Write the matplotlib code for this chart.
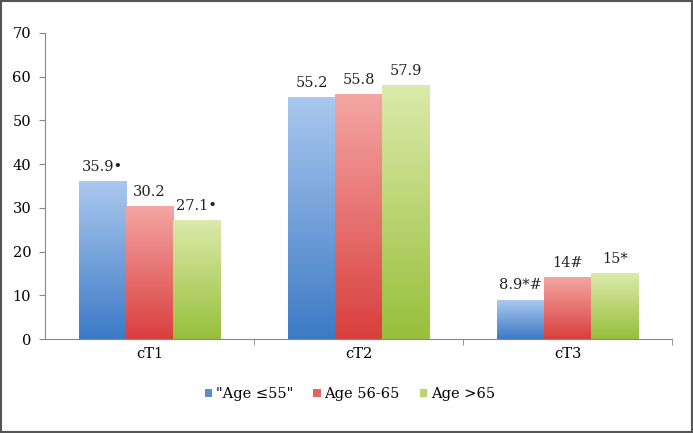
import matplotlib
matplotlib.use('Agg')
import matplotlib.pyplot as plt
import numpy as np
from matplotlib.colors import LinearSegmentedColormap
from matplotlib.patches import Patch, Rectangle

# -------------------- DATA --------------------
categories = ["cT1", "cT2", "cT3"]
series_names = ['"Age \u226455"', "Age 56-65", "Age >65"]
age_le55 = [35.9, 55.2, 8.9]
age_56_65 = [30.2, 55.8, 14]
age_gt65 = [27.1, 57.9, 15]
labels_le55 = ["35.9\u2022", "55.2", "8.9*#"]
labels_56_65 = ["30.2", "55.8", "14#"]
labels_gt65 = ["27.1\u2022", "57.9", "15*"]

values = [age_le55, age_56_65, age_gt65]
labels = [labels_le55, labels_56_65, labels_gt65]

# top (light) -> bottom (dark)
grads = [("#aac8ee", "#3d7ac6"), ("#f4a6a4", "#d93f3d"), ("#dbeaaa", "#98bf3c")]
legend_cols = ["#5b8fd3", "#e46462", "#b8d46c"]

plt.rcParams['font.family'] = ['DejaVu Serif']

fig = plt.figure(figsize=(6.93, 4.33), dpi=100)
ax = fig.add_axes([0.065, 0.217, 0.905, 0.707])

x = np.arange(len(categories))
width = 0.225
grad = np.linspace(0, 1, 256).reshape(-1, 1)

for i, (vals, labs) in enumerate(zip(values, labels)):
    cmap = LinearSegmentedColormap.from_list("g%d" % i, [grads[i][1], grads[i][0]])
    for j, v in enumerate(vals):
        x0 = x[j] + (i - 1) * width - width / 2
        ax.imshow(grad, extent=[x0, x0 + width, 0, v], origin='lower',
                  aspect='auto', cmap=cmap, zorder=2)
        ax.text(x0 + width / 2, v + 1.8, labs[j], ha='center', va='bottom',
                fontsize=10.5, color='#222222', zorder=3)

ax.set_xlim(-0.5, 2.5)
ax.set_ylim(0, 70)
ax.set_yticks(range(0, 71, 10))
ax.set_xticks(x)
ax.set_xticklabels(categories, fontsize=10.5)
ax.set_xticks([0.5, 1.5, 2.5], minor=True)
ax.tick_params(axis='x', which='major', length=0, pad=6)
ax.tick_params(axis='x', which='minor', length=4, color='#888888')
ax.tick_params(axis='y', labelsize=10.5, length=4, color='#888888', pad=6)
for s in ['top', 'right']:
    ax.spines[s].set_visible(False)
for s in ['left', 'bottom']:
    ax.spines[s].set_color('#888888')

handles = [Patch(facecolor=c, edgecolor='none') for c in legend_cols]
fig.legend(handles, series_names, loc='center', bbox_to_anchor=(0.505, 0.09),
           ncol=3, frameon=False, fontsize=10.5, handlelength=0.5,
           handleheight=0.5, handletextpad=0.25, columnspacing=1.4)

fig.patches.append(Rectangle((0.002, 0.003), 0.996, 0.994, transform=fig.transFigure,
                             fill=False, edgecolor='#555555', linewidth=1.5))

fig.savefig("out.png", dpi=100)
